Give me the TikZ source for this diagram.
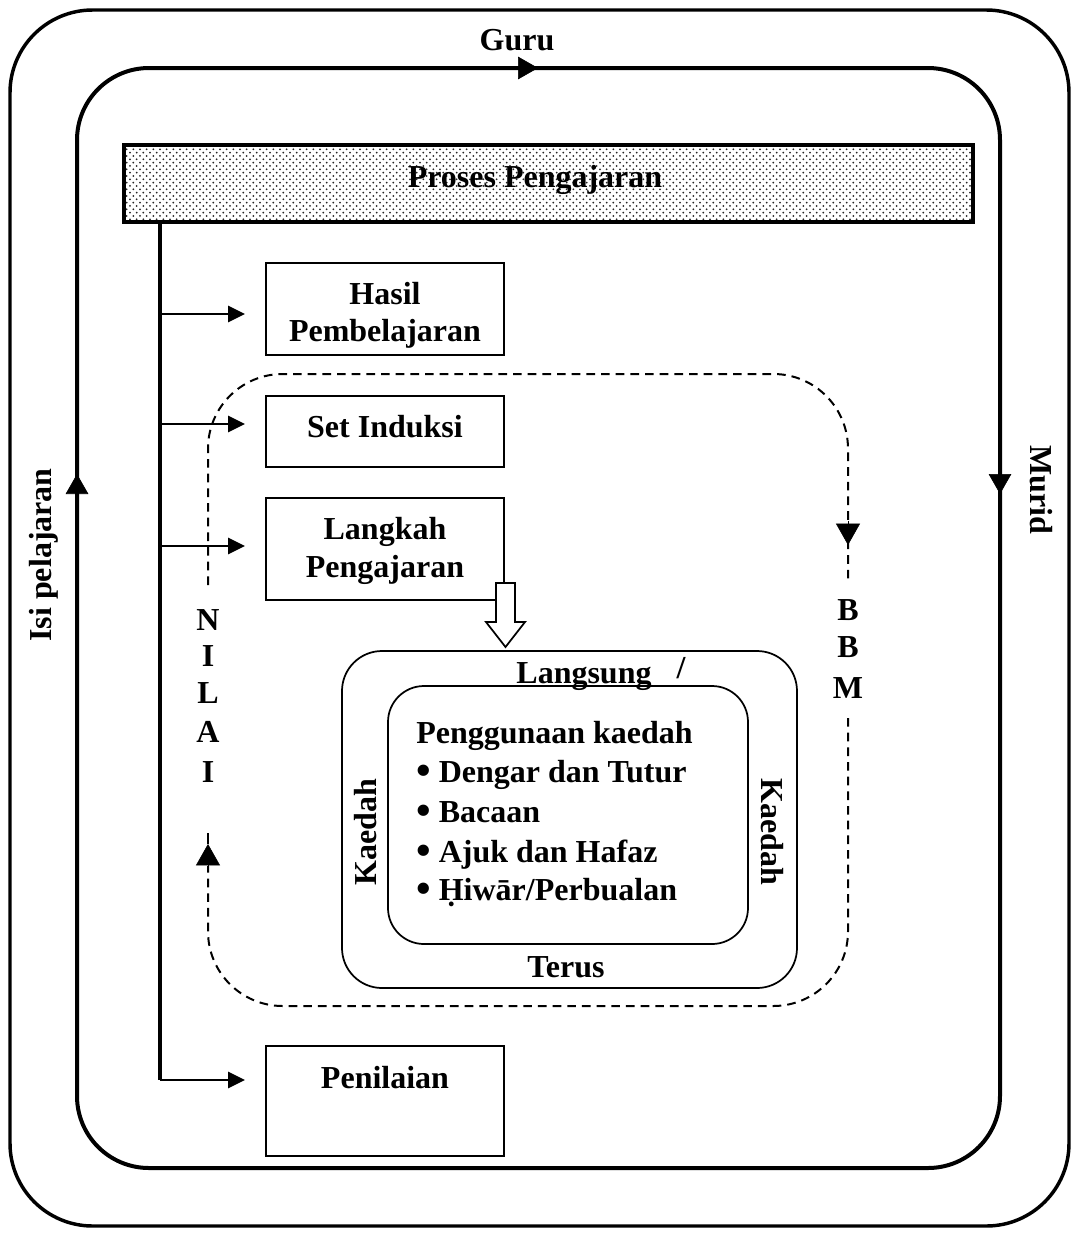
\documentclass[tikz,border=0pt]{standalone}
\usepackage{fontspec}
\setmainfont{Liberation Serif}
\usetikzlibrary{arrows.meta,patterns}
% stipple fill for the header bar: staggered rows of dots
\pgfdeclarepatternformonly{stipple}{\pgfqpoint{-1pt}{-1pt}}{\pgfqpoint{6pt}{6pt}}{\pgfqpoint{5pt}{5pt}}{%
  \pgfpathcircle{\pgfqpoint{0pt}{0pt}}{0.75pt}%
  \pgfpathcircle{\pgfqpoint{2.5pt}{2.5pt}}{0.75pt}%
  \pgfusepath{fill}}
\newcommand\blt{\raisebox{-0.08em}{\scalebox{1.3}{\textbullet}}}
\begin{document}
\begin{tikzpicture}[x=0.75pt,y=-0.75pt,
  lbl/.style={font=\fontsize{24}{28}\selectfont\bfseries, inner sep=0pt, text height=18pt, text depth=2.7pt},
  ml/.style={font=\fontsize{24}{28}\selectfont\bfseries, inner sep=0pt, align=center},
  box/.style={draw, line width=1.5pt, minimum width=178.5pt, inner sep=0pt},
  thick line/.style={line width=2.6pt},
  bigtip/.style={-{Triangle[length=15pt,width=17pt]}},
  smalltip/.style={-{Triangle[length=12.75pt,width=12pt]}},
  dashtip/.style={-{Triangle[length=16pt,width=18pt]}},
  loop/.style={line width=1.5pt, dash pattern=on 6.5pt off 4.5pt, rounded corners=56pt}]

\useasboundingbox (0,0) rectangle (1079,1236);

% outer and inner frames
\draw[thick line, rounded corners=62pt] (10,10) rectangle (1069,1226);
\draw[line width=3pt, rounded corners=54pt] (77,68) rectangle (1000,1168);

% direction marks on the inner frame
\coordinate (g0) at (512,68);  \coordinate (g1) at (538,68);
\coordinate (m0) at (1000,466); \coordinate (m1) at (1000,494);
\coordinate (i0) at (77,497);  \coordinate (i1) at (77,474);
\path[draw, bigtip] (g0) -- (g1);
\path[draw, bigtip] (m0) -- (m1);
\path[draw, bigtip] (i0) -- (i1);

\node[lbl] (guru) at (517,40) {Guru};
\node[lbl, rotate=-90] (murid) at (1041,490) {Murid};
\node[lbl, rotate=90] (isi) at (41,555) {Isi pelajaran};

% header bar
\node[draw, line width=2.4pt, pattern=stipple, pattern color=black!85,
      minimum width=636.75pt, minimum height=57.75pt, inner sep=0pt] (bar) at (548.5,183.5) {};
\node[lbl] (proses) at (535,177) {Proses Pengajaran};

% stage boxes
\node[box, minimum height=69pt] (hasil) at (385,309) {};
\node[ml] (hasiltxt) at (385,315) {Hasil\\Pembelajaran};
\node[box, minimum height=53.25pt] (set) at (385,431.5) {};
\node[lbl] (settxt) at (385,427) {Set Induksi};
\node[box, minimum height=76.5pt] (langkah) at (385,549) {};
\node[ml] (langkahtxt) at (385,551) {Langkah\\Pengajaran};
\node[box, minimum height=82.5pt] (nilai) at (385,1101) {};
\node[lbl] (nilaitxt) at (385,1078) {Penilaian};

% trunk and branches
\coordinate (t0) at (160,222);
\coordinate (t1) at (160,314);
\coordinate (t2) at (160,424);
\coordinate (t3) at (160,546);
\coordinate (t4) at (160,1080);
\draw[thick line] (t0) -- (t4);
\draw[line width=2.2pt, smalltip] (t1) -- (245,314);
\draw[line width=2.2pt, smalltip] (t2) -- (245,424);
\draw[line width=2.2pt, smalltip] (t3) -- (245,546);
\draw[line width=2.2pt, smalltip] (t4) -- (245,1080);

% method boxes
\draw[line width=1.3pt, rounded corners=30pt] (342,651) rectangle (797,988);
\draw[line width=1.3pt, rounded corners=27pt] (388,686) rectangle (748,944);
\node[lbl] (langsung) at (584,673) {Langsung};
\node[lbl] (slash) at (681,668) {/};
\node[lbl] (terus) at (566,967) {Terus};
\node[lbl, rotate=90] (kl) at (366,832) {Kaedah};
\node[lbl, rotate=-90] (kr) at (772,832) {Kaedah};
\node[lbl, anchor=west] (pk) at (416,733) {Penggunaan kaedah};
\node[lbl, anchor=west] (k1) at (416,772) {\blt\ Dengar dan Tutur};
\node[lbl, anchor=west] (k2) at (416,812) {\blt\ Bacaan};
\node[lbl, anchor=west] (k3) at (416,852) {\blt\ Ajuk dan Hafaz};
\node[lbl, anchor=west] (k4) at (416,890) {\blt\ Ḥiwār/Perbualan};

% hollow arrow from the teaching steps
\draw[line width=1.3pt, fill=white]
  (496,583) -- (515,583) -- (515,622) -- (525,622) -- (505.5,647)
  -- (486,622) -- (496,622) -- cycle;

% dashed value / material loop
\draw[loop] (208,585) -- (208,374) -- (848,374) -- (848,582);
\draw[loop] (848,718) -- (848,1006) -- (208,1006) -- (208,866);
\coordinate (b0) at (848,521); \coordinate (b1) at (848,545);
\path[draw, dashtip] (b0) -- (b1);
\coordinate (n0) at (208,866); \coordinate (n1) at (208,844);
\path[draw, dashtip] (n0) -- (n1);
\draw[line width=1.5pt] (208,833) -- (n1);

\foreach \c/\y [count=\k] in {N/620,I/656,L/693,A/732,I/772}
  \node[lbl] (nilai\k) at (208,\y) {\c};
\foreach \c/\y [count=\k] in {B/610,B/647,M/688}
  \node[lbl] (bbm\k) at (848,\y) {\c};

\end{tikzpicture}
\end{document}
